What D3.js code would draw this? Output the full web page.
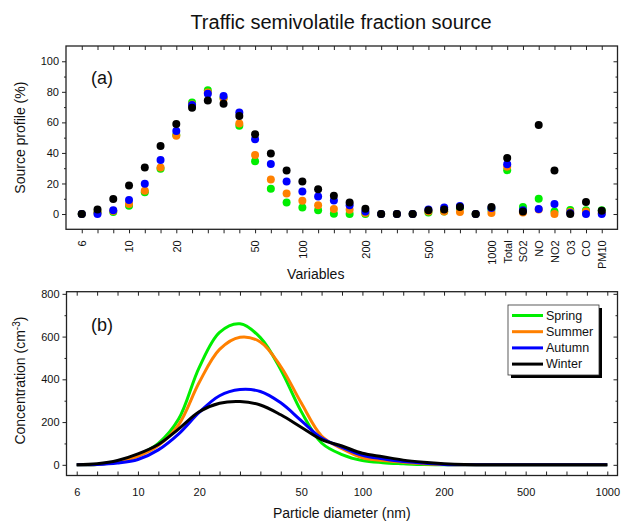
<!DOCTYPE html>
<html><head><meta charset="utf-8">
<script src="https://cdn.jsdelivr.net/npm/d3@7"></script>
<style>
body{margin:0;background:#fff;}
text{font-family:Arial,"Liberation Sans",sans-serif;fill:#111;}
</style></head>
<body><svg id="c" width="624" height="522"></svg>
<script>
// ---------- DATA ----------
const title = "Traffic semivolatile fraction source";
const seasons = ["Spring","Summer","Autumn","Winter"];
const seasonColors = ["#00ee00","#ff8000","#0000ff","#000000"];

// panel (a): 34 variables (27 size bins + gases/PM)
const variableLabels = ["6","","","10","","","20","","","","","50","","","100","","","","200","","","","500","","","","1000",
  "Total","SO2","NO","NO2","O3","CO","PM10"];
const profileSpring = [0,1,1.3,5.4,14.3,29.6,51.7,73,81,76,57.8,34.6,16.5,7.6,4.3,2.4,0.2,0,0,0,0,0,1,1.7,3.9,0,2.8,28.7,4.6,10,1.7,2.6,2.4,2.4];
const profileSummer = [0,1,2,6.5,15.2,30.4,51.3,71.7,79.6,75.7,59.3,38.7,22.6,13.5,8.7,5.7,3.3,2.8,0.7,0,0,0,1.7,1.7,1.3,0,0.7,31,1,3,0,1.5,1.7,0.7];
const profileAutumn = [0,0,2.4,9.1,19.8,35.4,54.3,71.3,78.7,77.2,66.5,48.9,32.8,21.3,14.8,11.5,8.9,5.7,1.7,0,0,0,3,4.3,5.2,0,3.9,32.6,2.4,3.3,6.5,0.7,0,0];
const profileWinter = [0,3,9.8,18.7,30.4,44.6,58.9,69.6,74.3,72.2,64.1,52.2,39.6,28.5,21.3,16.3,12,7.6,3.5,0,0,0,2.4,3,4.6,0,4.6,36.7,1.7,58.3,28.5,0,7.8,2.2];
const profileTicks = [0,20,40,60,80,100];

// panel (b): 27 size bins
const sizeLabels = variableLabels.slice(0,27);
const concSpring = [0,2,14,45,100,215,455,620,660,595,445,250,102,48,20,10,5,1,0,0,0,0,0,0,0,0,0];
const concSummer = [0,2,14,40,90,188,385,540,597,575,460,290,135,75,33,20,12,5,1,0,0,0,0,0,0,0,0];
const concAutumn = [0,1,8,25,70,145,245,323,352,343,290,207,125,82,45,28,15,8,2,0,0,0,0,0,0,0,0];
const concWinter = [0,5,20,51,95,168,248,288,296,280,234,176,118,88,54,38,22,12,5,1,0,0,0,0,0,0,0];
const concTicks = [0,200,400,600,800];

const profiles = [profileSpring,profileSummer,profileAutumn,profileWinter];
const concs = [concSpring,concSummer,concAutumn,concWinter];

// ---------- LAYOUT ----------
const svg = d3.select("#c");
const L = 66, R = 617.5;
const A = {top:46, bottom:229.3};
const B = {top:291.7, bottom:475.5};
const frameColor = "#222";

svg.append("text").attr("x",341).attr("y",29).attr("text-anchor","middle")
  .attr("font-size",20).text(title);

// ---------- PANEL A ----------
const xa = d3.scaleLinear().domain([-1, variableLabels.length]).range([L,R]);
const ya = d3.scaleLinear().domain([-10,110]).range([A.bottom,A.top]);
const ga = svg.append("g");

const idxA = d3.range(variableLabels.length);
const axBa = d3.axisBottom(xa).tickValues(idxA).tickSize(4).tickFormat(i=>variableLabels[i]);
const gBa = ga.append("g").attr("transform",`translate(0,${A.bottom})`).call(axBa);
gBa.select(".domain").remove();
gBa.selectAll("line").attr("stroke",frameColor);
gBa.selectAll("text").attr("font-size",11).attr("text-anchor","end")
  .attr("transform","rotate(-90)").attr("x",-11).attr("y",0).attr("dy","0.35em");
const gTa = ga.append("g").attr("transform",`translate(0,${A.top})`)
  .call(d3.axisBottom(xa).tickValues(idxA).tickSize(4).tickFormat(""));
gTa.select(".domain").remove(); gTa.selectAll("line").attr("stroke",frameColor);
const gLa = ga.append("g").attr("transform",`translate(${L},0)`)
  .call(d3.axisLeft(ya).tickValues(profileTicks).tickSize(4).tickPadding(3));
gLa.select(".domain").remove(); gLa.selectAll("line").attr("stroke",frameColor);
gLa.selectAll("text").attr("font-size",11);
ga.append("g").attr("transform",`translate(${L},0)`)
  .call(d3.axisLeft(ya).tickValues(d3.range(10,110,20)).tickSize(2).tickFormat(""))
  .call(g=>{g.select(".domain").remove();g.selectAll("line").attr("stroke",frameColor);});
ga.append("g").attr("transform",`translate(${R},0)`)
  .call(d3.axisRight(ya).tickValues(profileTicks).tickSize(-4).tickFormat(""))
  .call(g=>{g.select(".domain").remove();g.selectAll("line").attr("stroke",frameColor);});
ga.append("g").attr("transform",`translate(${R},0)`)
  .call(d3.axisRight(ya).tickValues(d3.range(10,110,20)).tickSize(-2).tickFormat(""))
  .call(g=>{g.select(".domain").remove();g.selectAll("line").attr("stroke",frameColor);});
ga.append("rect").attr("x",L).attr("y",A.top).attr("width",R-L).attr("height",A.bottom-A.top)
  .attr("fill","none").attr("stroke",frameColor).attr("stroke-width",1.3);

profiles.forEach((vals,s)=>{
  ga.append("g").selectAll("circle").data(vals).join("circle")
    .attr("cx",(d,i)=>xa(i)).attr("cy",d=>ya(d)).attr("r",4)
    .attr("fill",seasonColors[s]);
});
ga.append("text").attr("x",91).attr("y",84).attr("font-size",18).text("(a)");
ga.append("text").attr("x",(L+R)/2-26).attr("y",279).attr("text-anchor","middle")
  .attr("font-size",14).text("Variables");
ga.append("text").attr("transform",`translate(25,${(A.top+A.bottom)/2}) rotate(-90)`)
  .attr("text-anchor","middle").attr("font-size",14).text("Source profile (%)");

// ---------- PANEL B ----------
const xb = d3.scaleLinear().domain([-0.5, sizeLabels.length-0.5]).range([L+0.5,R]);
const yb = d3.scaleLinear().domain([-50,810]).range([B.bottom,B.top]);
const gb = svg.append("g");
const idxB = d3.range(sizeLabels.length);
const gBb = gb.append("g").attr("transform",`translate(0,${B.bottom})`)
  .call(d3.axisTop(xb).tickValues(idxB).tickSize(4).tickFormat(""));
gBb.select(".domain").remove(); gBb.selectAll("line").attr("stroke",frameColor);
gb.append("g").attr("transform",`translate(0,${B.bottom})`)
  .call(d3.axisBottom(xb).tickValues(idxB.filter(i=>sizeLabels[i]!=="")).tickSize(0).tickPadding(13).tickFormat(i=>sizeLabels[i]))
  .call(g=>{g.select(".domain").remove();g.selectAll("text").attr("font-size",11);});
gb.append("g").attr("transform",`translate(0,${B.top})`)
  .call(d3.axisBottom(xb).tickValues(idxB).tickSize(4).tickFormat(""))
  .call(g=>{g.select(".domain").remove();g.selectAll("line").attr("stroke",frameColor);});
const gLb = gb.append("g").attr("transform",`translate(${L+0.5},0)`)
  .call(d3.axisLeft(yb).tickValues(concTicks).tickSize(4).tickPadding(3));
gLb.select(".domain").remove(); gLb.selectAll("line").attr("stroke",frameColor);
gLb.selectAll("text").attr("font-size",11);
gb.append("g").attr("transform",`translate(${L+0.5},0)`)
  .call(d3.axisLeft(yb).tickValues([100,300,500,700]).tickSize(2).tickFormat(""))
  .call(g=>{g.select(".domain").remove();g.selectAll("line").attr("stroke",frameColor);});
gb.append("g").attr("transform",`translate(${R},0)`)
  .call(d3.axisRight(yb).tickValues(concTicks).tickSize(-4).tickFormat(""))
  .call(g=>{g.select(".domain").remove();g.selectAll("line").attr("stroke",frameColor);});
gb.append("g").attr("transform",`translate(${R},0)`)
  .call(d3.axisRight(yb).tickValues([100,300,500,700]).tickSize(-2).tickFormat(""))
  .call(g=>{g.select(".domain").remove();g.selectAll("line").attr("stroke",frameColor);});

const line = d3.line().x((d,i)=>xb(i)).y(d=>yb(d)).curve(d3.curveCatmullRom.alpha(0.5));
concs.forEach((vals,s)=>{
  gb.append("path").attr("d",line(vals)).attr("fill","none")
    .attr("stroke",seasonColors[s]).attr("stroke-width",3);
});
gb.append("rect").attr("x",L+0.5).attr("y",B.top).attr("width",R-L-0.5).attr("height",B.bottom-B.top)
  .attr("fill","none").attr("stroke",frameColor).attr("stroke-width",1.3);

gb.append("text").attr("x",91).attr("y",331).attr("font-size",18).text("(b)");
gb.append("text").attr("x",(L+R)/2).attr("y",518).attr("text-anchor","middle")
  .attr("font-size",14).text("Particle diameter (nm)");
const yl = gb.append("text").attr("transform",`translate(25,${(B.top+B.bottom)/2-3}) rotate(-90)`)
  .attr("text-anchor","middle").attr("font-size",14);
yl.append("tspan").text("Concentration (cm");
yl.append("tspan").attr("dy",-5).attr("font-size",10).text("-3");
yl.append("tspan").attr("dy",5).text(")");

// legend
const lg = gb.append("g").attr("transform","translate(508,305)");
lg.append("rect").attr("x",3).attr("y",3).attr("width",91).attr("height",70).attr("fill","#000");
lg.append("rect").attr("x",0).attr("y",0).attr("width",91).attr("height",70)
  .attr("fill","#fff").attr("stroke","#333").attr("stroke-width",0.8);
seasons.forEach((name,s)=>{
  const yy = 10.5 + s*16.2;
  lg.append("line").attr("x1",4).attr("x2",35).attr("y1",yy).attr("y2",yy)
    .attr("stroke",seasonColors[s]).attr("stroke-width",3);
  lg.append("text").attr("x",38).attr("y",yy).attr("dy","0.35em").attr("font-size",12.5).text(name);
});
</script></body></html>
